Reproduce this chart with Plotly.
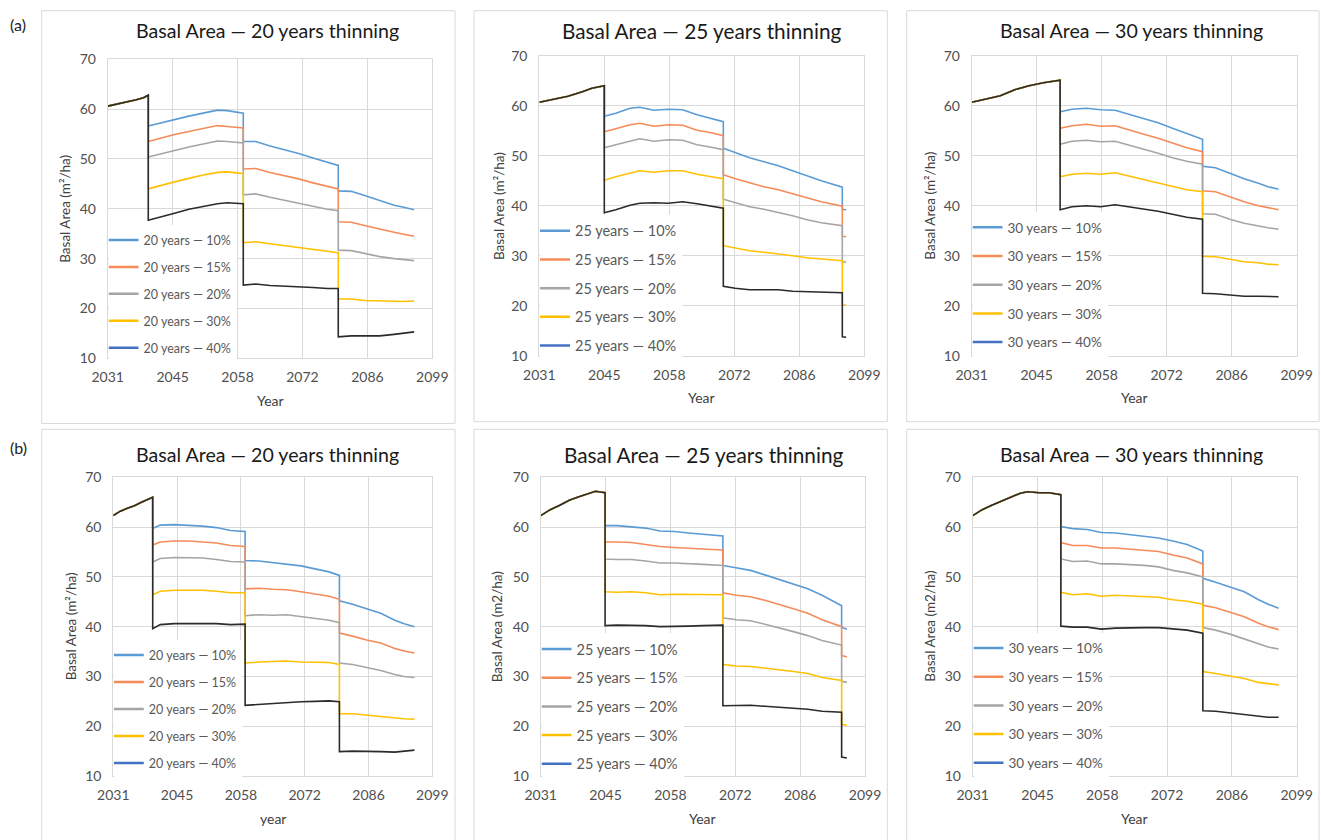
import plotly.graph_objects as go

W, H = 1321, 840
FONT = "Lato"

# ---------------- data ----------------
TICK_VALS = [2031, 2044.6, 2058.2, 2071.8, 2085.4, 2099]
TICK_TEXT = ["2031", "2045", "2058", "2072", "2086", "2099"]
Y_TICKS = [10, 20, 30, 40, 50, 60, 70]
PCTS = ["10%", "15%", "20%", "30%", "40%"]

# (a) 20 years thinning
A1_PRE_X = [2031, 2033, 2035, 2037, 2038.5, 2039.5]
A1_PRE_Y = [60.6, 61.0, 61.5, 61.9, 62.3, 62.8]
A1_X = [2039.5, 2042, 2045, 2048, 2051, 2054, 2056, 2058, 2059.4,
        2059.4, 2062, 2065, 2068, 2071, 2074, 2077, 2079.3,
        2079.3, 2082, 2085, 2088, 2091, 2093, 2095.2]
A1_10 = [56.6, 57.2, 57.9, 58.6, 59.2, 59.8, 59.7, 59.4, 59.2, 53.5, 53.5, 52.6, 51.9, 51.1, 50.2, 49.3, 48.7, 43.6, 43.5, 42.6, 41.6, 40.7, 40.3, 39.8]
A1_15 = [53.5, 54.2, 54.9, 55.5, 56.1, 56.7, 56.5, 56.4, 56.2, 48.0, 48.1, 47.3, 46.7, 46.0, 45.2, 44.5, 44.0, 37.4, 37.3, 36.6, 35.9, 35.3, 34.9, 34.5]
A1_20 = [50.4, 51.0, 51.8, 52.4, 53.0, 53.6, 53.5, 53.4, 53.2, 42.8, 43.0, 42.3, 41.7, 41.1, 40.4, 39.9, 39.6, 31.7, 31.6, 31.0, 30.4, 30.0, 29.8, 29.6]
A1_30 = [44.0, 44.7, 45.4, 46.1, 46.8, 47.3, 47.4, 47.2, 47.1, 33.2, 33.4, 33.0, 32.6, 32.3, 31.8, 31.4, 31.2, 21.9, 21.9, 21.6, 21.5, 21.4, 21.4, 21.5]
A1_40 = [37.7, 38.4, 39.1, 39.9, 40.5, 41.0, 41.2, 41.1, 41.0, 24.7, 24.9, 24.6, 24.5, 24.4, 24.2, 24.0, 24.0, 14.3, 14.5, 14.5, 14.5, 14.8, 15.0, 15.3]

# (a) 25 years thinning
A2_PRE_X = [2031, 2034, 2037, 2040, 2042, 2044.6]
A2_PRE_Y = [60.7, 61.3, 61.9, 62.8, 63.5, 64.0]
A2_X = [2044.6, 2047, 2050, 2052, 2055, 2058, 2061, 2064, 2067, 2069.5,
        2069.5, 2072, 2075, 2078, 2081, 2084, 2087, 2090, 2094.4,
        2094.4, 2095.2]
A2_10 = [57.9, 58.5, 59.5, 59.7, 59.1, 59.3, 59.2, 58.2, 57.5, 56.8, 51.5, 50.6, 49.6, 48.8, 48.0, 47.0, 46.0, 45.0, 43.7, 39.3, 39.2]
A2_15 = [54.8, 55.4, 56.2, 56.5, 55.9, 56.2, 56.1, 55.1, 54.6, 54.0, 46.2, 45.4, 44.6, 43.8, 43.2, 42.4, 41.5, 40.8, 39.9, 33.9, 33.8]
A2_20 = [51.6, 52.2, 53.0, 53.4, 52.9, 53.2, 53.1, 52.2, 51.7, 51.2, 41.3, 40.6, 39.8, 39.3, 38.7, 38.0, 37.2, 36.6, 36.0, 28.8, 28.7]
A2_30 = [45.1, 45.8, 46.6, 47.0, 46.7, 47.0, 47.0, 46.3, 45.8, 45.4, 32.0, 31.5, 31.0, 30.7, 30.4, 30.0, 29.6, 29.3, 29.0, 20.2, 20.1]
A2_40 = [38.6, 39.2, 40.1, 40.5, 40.6, 40.5, 40.8, 40.4, 39.9, 39.5, 23.9, 23.5, 23.2, 23.2, 23.2, 22.9, 22.8, 22.7, 22.6, 13.8, 13.7]

# (a) 30 years thinning
A3_PRE_X = [2031, 2034, 2037, 2040, 2043, 2046, 2049.5]
A3_PRE_Y = [60.7, 61.3, 62.0, 63.2, 64.0, 64.6, 65.1]
A3_X = [2049.5, 2052, 2055, 2058, 2061, 2064, 2067, 2070, 2073, 2076, 2079.3,
        2079.3, 2082, 2085, 2088, 2091, 2093, 2095.2]
A3_10 = [58.8, 59.3, 59.5, 59.2, 59.1, 58.3, 57.4, 56.6, 55.5, 54.5, 53.3, 47.9, 47.6, 46.5, 45.4, 44.5, 43.8, 43.3]
A3_15 = [55.5, 56.0, 56.3, 55.9, 56.0, 55.1, 54.3, 53.5, 52.5, 51.6, 50.8, 43.0, 42.8, 41.8, 40.8, 40.0, 39.6, 39.2]
A3_20 = [52.3, 52.9, 53.1, 52.8, 52.9, 52.1, 51.4, 50.5, 49.6, 48.9, 48.3, 38.4, 38.3, 37.3, 36.5, 35.9, 35.6, 35.3]
A3_30 = [45.8, 46.3, 46.5, 46.3, 46.6, 45.9, 45.2, 44.6, 43.8, 43.2, 42.8, 29.9, 29.8, 29.3, 28.8, 28.6, 28.3, 28.2]
A3_40 = [39.2, 39.8, 40.0, 39.8, 40.2, 39.8, 39.3, 38.9, 38.3, 37.7, 37.3, 22.5, 22.4, 22.1, 21.9, 21.9, 21.8, 21.8]

# (b) 20 years thinning
B1_PRE_X = [2031, 2032.5, 2034, 2035.5, 2037, 2038.5, 2039.4]
B1_PRE_Y = [62.3, 63.2, 63.8, 64.3, 65.0, 65.6, 66.0]
B1_X = [2039.4, 2041, 2044, 2047, 2050, 2053, 2056, 2059.1,
        2059.1, 2062, 2065, 2068, 2071, 2074, 2077, 2079.2,
        2079.2, 2082, 2085, 2088, 2091, 2093, 2095.2]
B1_10 = [59.7, 60.4, 60.5, 60.4, 60.2, 59.9, 59.3, 59.1, 53.3, 53.2, 52.9, 52.6, 52.2, 51.6, 51.0, 50.3, 45.2, 44.5, 43.6, 42.7, 41.3, 40.6, 40.0]
B1_15 = [56.4, 57.0, 57.2, 57.2, 57.0, 56.8, 56.3, 56.1, 47.6, 47.7, 47.5, 47.4, 47.0, 46.6, 46.1, 45.5, 38.7, 38.1, 37.3, 36.7, 35.6, 35.1, 34.7]
B1_20 = [53.0, 53.7, 53.9, 53.9, 53.8, 53.5, 53.1, 53.0, 42.2, 42.4, 42.3, 42.4, 42.0, 41.7, 41.3, 40.8, 32.7, 32.4, 31.8, 31.2, 30.4, 30.0, 29.8]
B1_30 = [46.4, 47.1, 47.3, 47.3, 47.3, 47.1, 46.8, 46.8, 32.7, 32.9, 33.0, 33.1, 32.9, 32.9, 32.8, 32.4, 22.5, 22.5, 22.2, 22.0, 21.6, 21.5, 21.4]
B1_40 = [39.6, 40.4, 40.6, 40.6, 40.7, 40.6, 40.4, 40.5, 24.2, 24.4, 24.6, 24.8, 24.9, 25.0, 25.1, 24.9, 14.9, 15.0, 15.0, 14.9, 14.8, 15.0, 15.2]

# (b) 25 years thinning
B2_PRE_X = [2031, 2033, 2035, 2037, 2039, 2041, 2042.5, 2044.5]
B2_PRE_Y = [62.3, 63.5, 64.4, 65.4, 66.1, 66.8, 67.2, 66.9]
B2_X = [2044.5, 2047, 2050, 2053, 2056, 2059, 2062, 2065, 2069.2,
        2069.2, 2072, 2075, 2078, 2081, 2084, 2087, 2090, 2094.1,
        2094.1, 2095.2]
B2_10 = [60.3, 60.3, 60.1, 59.8, 59.2, 59.1, 58.8, 58.6, 58.2, 52.3, 51.8, 51.3, 50.4, 49.5, 48.6, 47.6, 46.3, 44.2, 39.9, 39.5]
B2_15 = [57.0, 57.0, 56.9, 56.5, 56.1, 55.9, 55.8, 55.6, 55.4, 46.8, 46.3, 46.0, 45.3, 44.5, 43.6, 42.7, 41.4, 40.0, 34.2, 33.9]
B2_20 = [53.6, 53.5, 53.5, 53.2, 52.8, 52.8, 52.6, 52.5, 52.3, 41.8, 41.4, 41.2, 40.5, 39.8, 39.0, 38.2, 37.2, 36.3, 29.0, 28.8]
B2_30 = [47.0, 46.9, 47.0, 46.8, 46.4, 46.5, 46.5, 46.5, 46.4, 32.4, 32.1, 32.0, 31.7, 31.4, 31.0, 30.6, 29.8, 29.2, 20.4, 20.2]
B2_40 = [40.2, 40.3, 40.3, 40.2, 40.0, 40.0, 40.1, 40.2, 40.3, 24.1, 24.1, 24.2, 24.0, 23.8, 23.6, 23.4, 23.0, 22.8, 13.8, 13.6]

# (b) 30 years thinning
B3_PRE_X = [2031, 2033, 2035, 2037, 2039, 2041, 2042.5, 2045, 2047, 2049.5]
B3_PRE_Y = [62.3, 63.5, 64.4, 65.2, 66.0, 66.8, 67.1, 66.9, 66.9, 66.5]
B3_X = [2049.5, 2052, 2055, 2058, 2061, 2064, 2067, 2070, 2073, 2076, 2079.3,
        2079.3, 2082, 2085, 2088, 2091, 2093, 2095.2]
B3_10 = [60.1, 59.7, 59.5, 58.9, 58.8, 58.5, 58.2, 57.8, 57.2, 56.5, 55.2, 49.7, 48.9, 48.0, 47.0, 45.4, 44.5, 43.7]
B3_15 = [56.9, 56.3, 56.3, 55.8, 55.8, 55.6, 55.4, 55.1, 54.4, 53.8, 52.6, 44.3, 43.8, 42.9, 42.0, 40.7, 40.0, 39.4]
B3_20 = [53.6, 53.1, 53.2, 52.6, 52.6, 52.5, 52.3, 52.0, 51.3, 50.8, 50.0, 39.8, 39.3, 38.5, 37.5, 36.5, 35.9, 35.5]
B3_30 = [46.9, 46.4, 46.6, 46.1, 46.3, 46.2, 46.1, 45.9, 45.4, 45.1, 44.5, 31.0, 30.6, 30.1, 29.6, 28.8, 28.5, 28.3]
B3_40 = [40.1, 39.9, 39.9, 39.5, 39.7, 39.8, 39.8, 39.8, 39.5, 39.3, 38.7, 23.1, 23.0, 22.7, 22.4, 22.0, 21.8, 21.8]

PANELS = [
    dict(pre_x=A1_PRE_X, pre_y=A1_PRE_Y, x=A1_X, ys=[A1_10, A1_15, A1_20, A1_30, A1_40],
         years="20 years", ytitle="Basal Area (m²/ha)", xtitle="Year"),
    dict(pre_x=A2_PRE_X, pre_y=A2_PRE_Y, x=A2_X, ys=[A2_10, A2_15, A2_20, A2_30, A2_40],
         years="25 years", ytitle="Basal Area (m²/ha)", xtitle="Year"),
    dict(pre_x=A3_PRE_X, pre_y=A3_PRE_Y, x=A3_X, ys=[A3_10, A3_15, A3_20, A3_30, A3_40],
         years="30 years", ytitle="Basal Area (m²/ha)", xtitle="Year"),
    dict(pre_x=B1_PRE_X, pre_y=B1_PRE_Y, x=B1_X, ys=[B1_10, B1_15, B1_20, B1_30, B1_40],
         years="20 years", ytitle="Basal Area (m²/ha)", xtitle="year"),
    dict(pre_x=B2_PRE_X, pre_y=B2_PRE_Y, x=B2_X, ys=[B2_10, B2_15, B2_20, B2_30, B2_40],
         years="25 years", ytitle="Basal Area (m2/ha)", xtitle="Year"),
    dict(pre_x=B3_PRE_X, pre_y=B3_PRE_Y, x=B3_X, ys=[B3_10, B3_15, B3_20, B3_30, B3_40],
         years="30 years", ytitle="Basal Area (m2/ha)", xtitle="Year"),
]

# ---------------- styling / layout geometry (pixels) ----------------
LINE_COLORS = ["#5B9BD5", "#F68B5A", "#A5A5A5", "#FFC000", "#2B2B2B"]
LEGEND_COLORS = ["#5B9BD5", "#F68B5A", "#A5A5A5", "#FFC000", "#4472C4"]

GEOM = [
    dict(plot=(107.7, 432.3, 59.3, 358.3), box=(41.7, 455, 10.7, 423.5), title=(267, 31, 19.6),
         ytx=65, xty=400, leg=(108.5, 225.4, 12.5, 7.65)),
    dict(plot=(539.3, 864.3, 55.7, 355.7), box=(474, 887.3, 10.7, 421.7), title=(702, 31, 20.8),
         ytx=498.3, xty=397, leg=(540, 214.8, 14.5, 6.85)),
    dict(plot=(971.7, 1296.7, 55.7, 355.7), box=(906.7, 1319, 10.7, 421.7), title=(1131, 31, 19.6),
         ytx=930, xty=397, leg=(972.5, 212, 13.5, 8.15)),
    dict(plot=(113.3, 432.3, 477.3, 776), box=(41.7, 455, 429.3, 845), title=(267, 454, 19.6),
         ytx=70.7, xty=818, leg=(113.8, 640.4, 12.5, 7.75)),
    dict(plot=(540.7, 865, 477.3, 776), box=(474, 887.3, 429.3, 845), title=(704, 455, 20.8),
         ytx=496.7, xty=818, leg=(541.5, 633.1, 14.5, 6.85)),
    dict(plot=(972.7, 1296.7, 477.3, 776), box=(906.7, 1319, 429.3, 845), title=(1131, 455, 19.6),
         ytx=930, xty=818, leg=(973.5, 632.7, 13.5, 8.15)),
]


def fx(px):
    return px / W


def fy(py):
    return 1 - py / H


fig = go.Figure()
layout = dict(
    width=W, height=H, margin=dict(l=0, r=0, t=0, b=0, pad=0, autoexpand=False),
    paper_bgcolor="white", plot_bgcolor="white",
    showlegend=True, annotations=[], shapes=[],
)

for i, (p, g) in enumerate(zip(PANELS, GEOM)):
    n = i + 1
    xa = "x" if n == 1 else f"x{n}"
    ya = "y" if n == 1 else f"y{n}"
    leg = "legend" if n == 1 else f"legend{n}"
    l, r, t, b = g["plot"]

    axis_common = dict(
        showgrid=True, gridcolor="#D9D9D9", gridwidth=1,
        showline=True, linecolor="#D9D9D9", linewidth=1, mirror=True,
        zeroline=False, ticks="", fixedrange=True, automargin=False,
        tickfont=dict(family=FONT, size=14, color="#505050"),
    )
    layout["xaxis" if n == 1 else f"xaxis{n}"] = dict(
        axis_common, domain=[fx(l), fx(r)], range=[2031, 2099],
        tickmode="array", tickvals=TICK_VALS, ticktext=TICK_TEXT,
        anchor=ya, ticklabelstandoff=6,
    )
    layout["yaxis" if n == 1 else f"yaxis{n}"] = dict(
        axis_common, domain=[fy(b), fy(t)], range=[10, 70],
        tickmode="array", tickvals=Y_TICKS, anchor=xa, ticklabelstandoff=8,
    )

    for k in range(5):
        fig.add_trace(go.Scatter(
            x=p["pre_x"] + p["x"], y=p["pre_y"] + p["ys"][k],
            mode="lines", line=dict(color=LINE_COLORS[k], width=1.6),
            xaxis=xa, yaxis=ya, showlegend=False, hoverinfo="skip",
        ))
    for k in range(5):
        fig.add_trace(go.Scatter(
            x=[None], y=[None], mode="lines",
            line=dict(color=LEGEND_COLORS[k], width=2.5),
            name=f"{p['years']} — {PCTS[k]}", legend=leg,
            legendgroup=f"p{n}_{k}", xaxis=xa, yaxis=ya, showlegend=True,
        ))
    ll, lt, lsize, lgap = g["leg"]
    layout[leg] = dict(
        x=fx(ll), y=fy(lt), xanchor="left", yanchor="top",
        bgcolor="white", borderwidth=0, tracegroupgap=lgap,
        font=dict(family=FONT, size=lsize, color="#595959"),
        indentation=-5,
    )

    bl, br, bt, bb = g["box"]
    layout["shapes"].append(dict(
        type="rect", xref="paper", yref="paper",
        x0=fx(bl), x1=fx(br), y0=fy(bb), y1=fy(bt),
        line=dict(color="#D9D9D9", width=1), fillcolor="rgba(0,0,0,0)", layer="below",
    ))
    cx, cy, ts = g["title"]
    layout["annotations"].append(dict(
        text=f"Basal Area — {p['years']} thinning", x=fx(cx), y=fy(cy),
        xref="paper", yref="paper", xanchor="center", yanchor="middle",
        showarrow=False, font=dict(family=FONT, size=ts, color="#1A1A1A"),
    ))
    layout["annotations"].append(dict(
        text=p["ytitle"], x=fx(g["ytx"]), y=fy((t + b) / 2), textangle=-90,
        xref="paper", yref="paper", xanchor="center", yanchor="middle",
        showarrow=False, font=dict(family=FONT, size=13.5, color="#404040"),
    ))
    layout["annotations"].append(dict(
        text=p["xtitle"], x=fx((l + r) / 2), y=fy(g["xty"]),
        xref="paper", yref="paper", xanchor="center", yanchor="middle",
        showarrow=False, font=dict(family=FONT, size=14, color="#404040"),
    ))

for lab, py in [("(a)", 24), ("(b)", 447)]:
    layout["annotations"].append(dict(
        text=lab, x=fx(18), y=fy(py), xref="paper", yref="paper",
        xanchor="center", yanchor="middle", showarrow=False,
        font=dict(family=FONT, size=16, color="#222222"),
    ))

fig.update_layout(**layout)
fig.write_html(
    "out.html",
    post_script="document.body.style.margin='0';document.body.style.padding='0';"
                "document.body.style.overflow='hidden';",
)
